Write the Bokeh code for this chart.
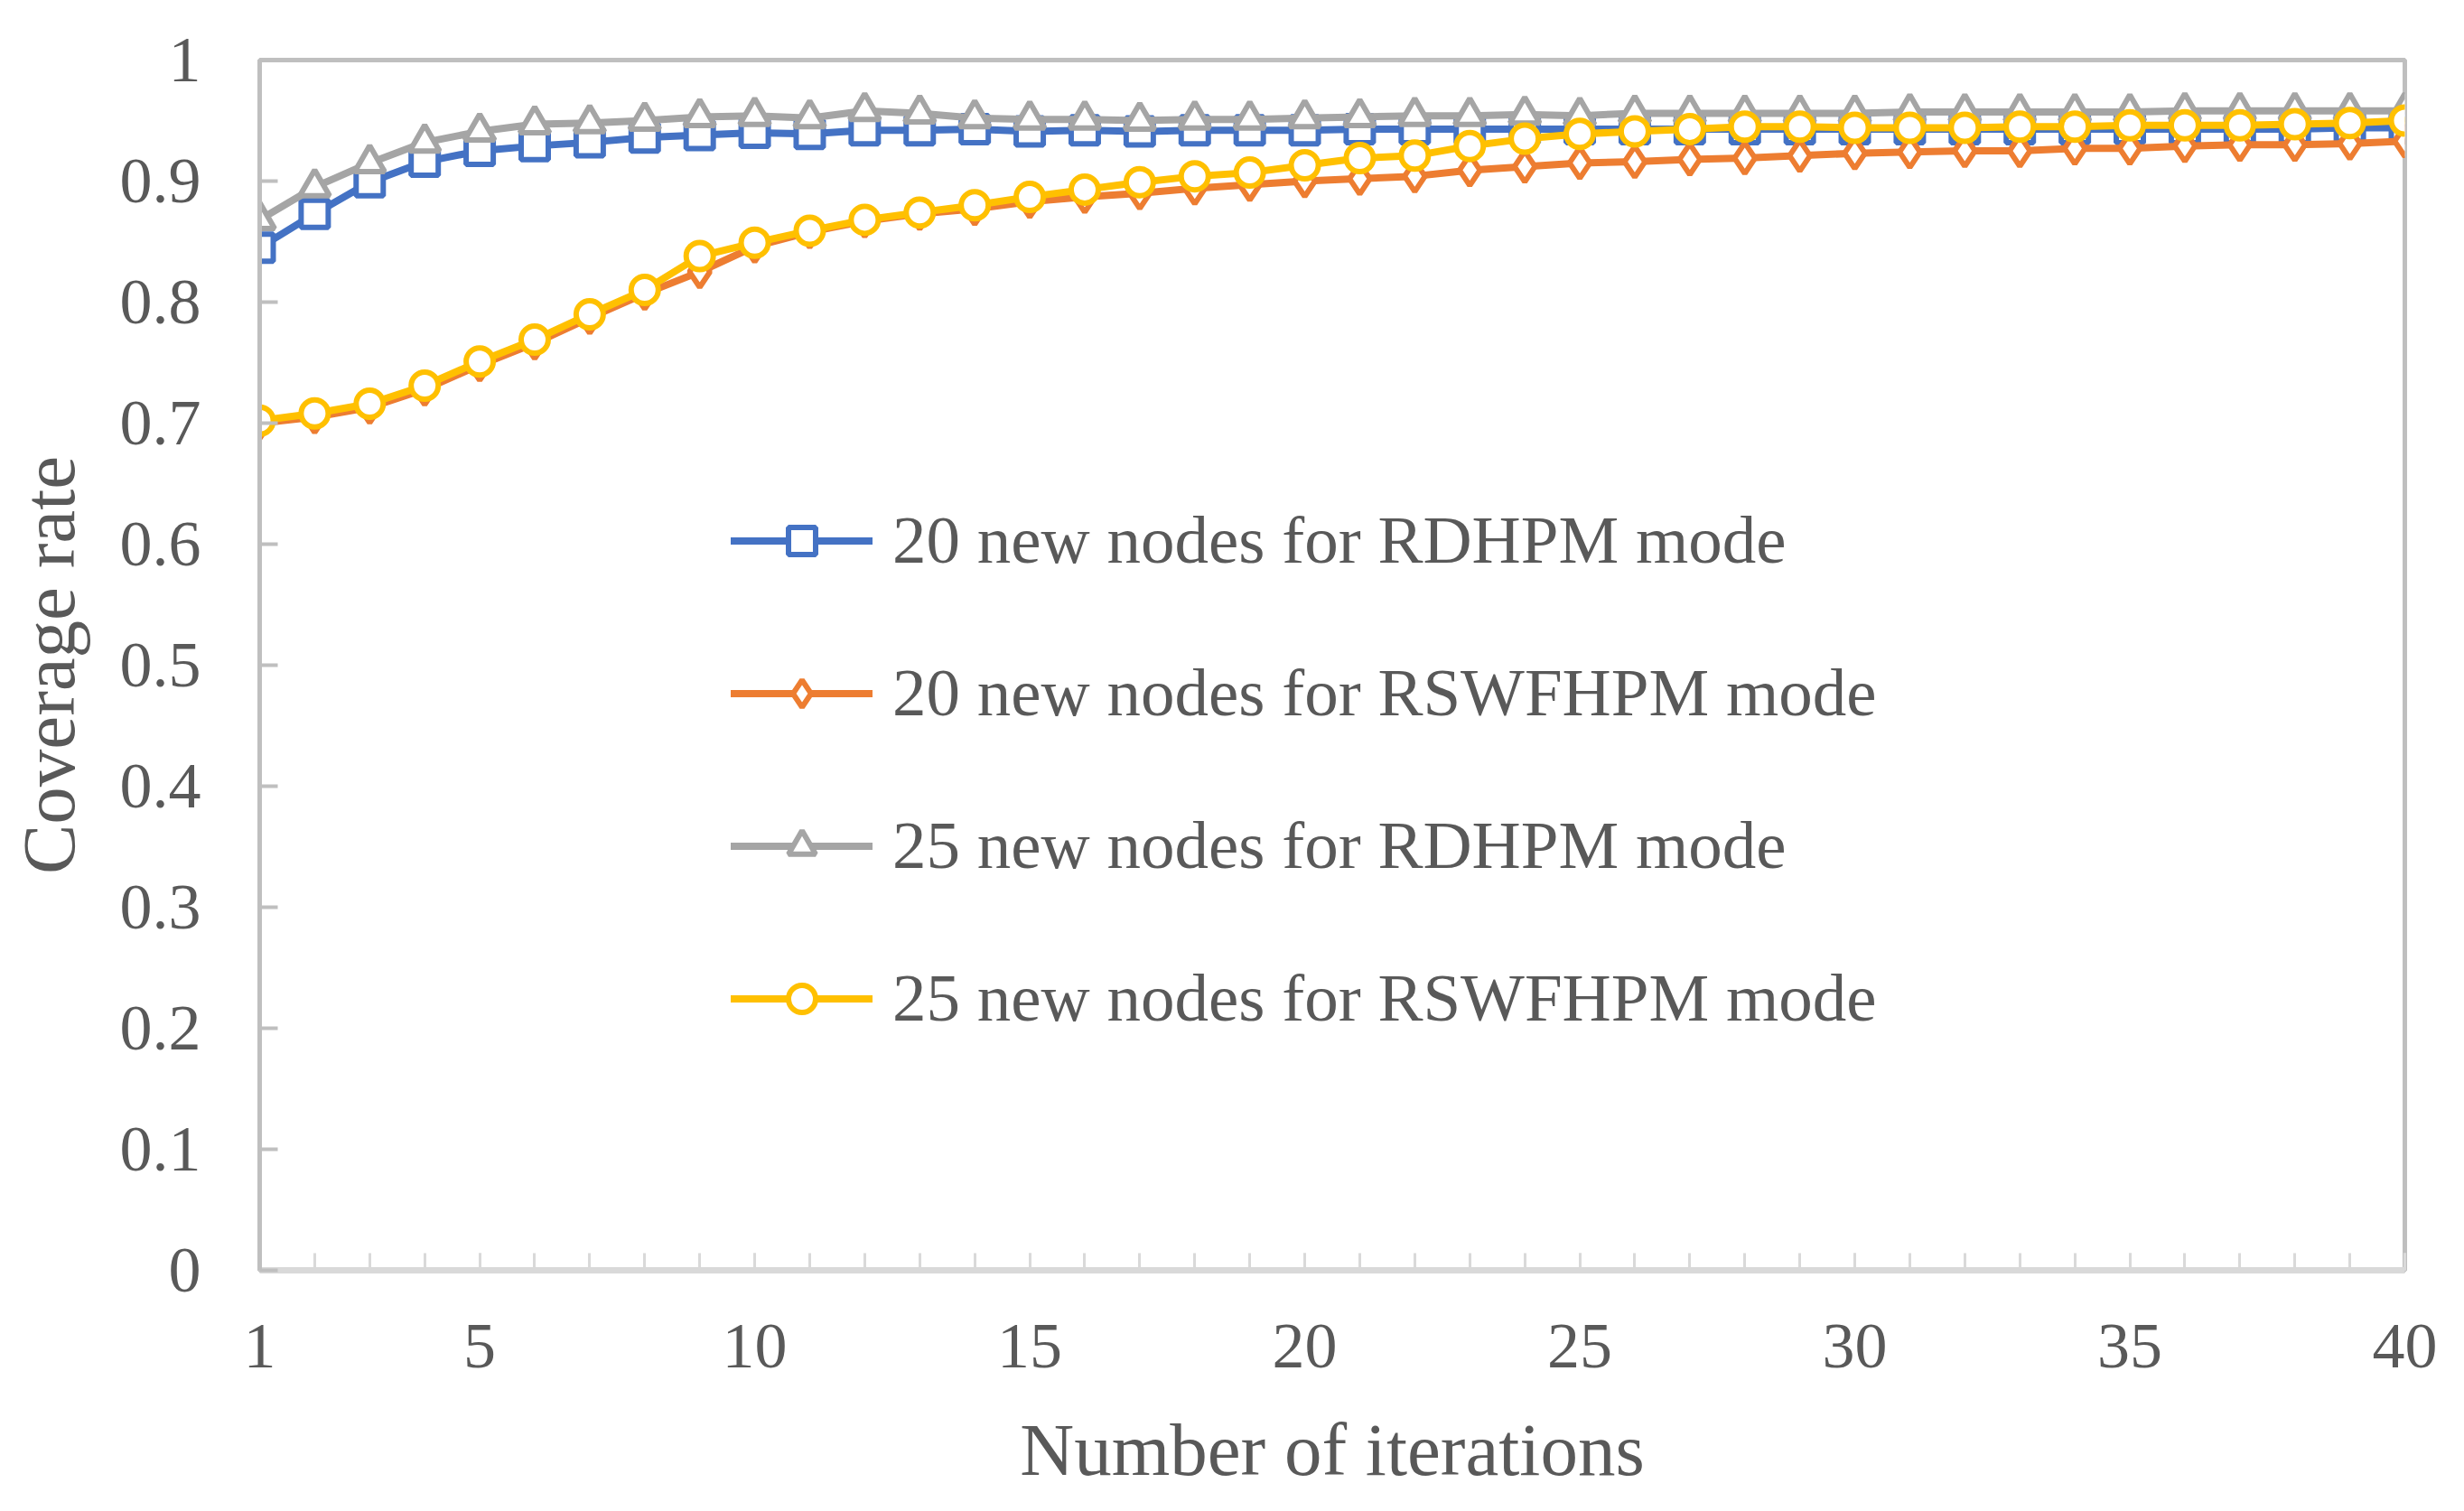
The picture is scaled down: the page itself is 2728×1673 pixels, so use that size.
from bokeh.plotting import figure
from bokeh.models import FixedTicker, CustomJSTickFormatter, Legend, LegendItem, Range1d
from bokeh.embed import file_html
from bokeh.resources import INLINE

iterations = list(range(1, 41))

rdhpm_20 = [0.845, 0.873, 0.899, 0.916, 0.925, 0.929, 0.932, 0.936, 0.938, 0.940,
            0.939, 0.942, 0.942, 0.943, 0.941, 0.942, 0.941, 0.942, 0.942, 0.942,
            0.943, 0.943, 0.943, 0.943, 0.943, 0.943, 0.943, 0.943, 0.943, 0.943,
            0.943, 0.943, 0.943, 0.943, 0.943, 0.943, 0.943, 0.943, 0.944, 0.944]

rswfhpm_20 = [0.700, 0.705, 0.713, 0.728, 0.748, 0.766, 0.787, 0.807, 0.825, 0.846,
              0.858, 0.867, 0.873, 0.877, 0.883, 0.887, 0.890, 0.894, 0.897, 0.900,
              0.902, 0.904, 0.909, 0.912, 0.915, 0.916, 0.918, 0.919, 0.921, 0.923,
              0.924, 0.925, 0.925, 0.927, 0.927, 0.929, 0.930, 0.930, 0.931, 0.933]

rdhpm_25 = [0.868, 0.895, 0.915, 0.932, 0.941, 0.947, 0.948, 0.950, 0.953, 0.954,
            0.952, 0.958, 0.956, 0.952, 0.951, 0.951, 0.950, 0.951, 0.951, 0.952,
            0.953, 0.954, 0.954, 0.955, 0.954, 0.956, 0.956, 0.956, 0.956, 0.956,
            0.957, 0.957, 0.957, 0.957, 0.957, 0.958, 0.958, 0.958, 0.958, 0.958]

rswfhpm_25 = [0.702, 0.708, 0.716, 0.731, 0.751, 0.769, 0.790, 0.810, 0.838, 0.849,
              0.859, 0.868, 0.874, 0.880, 0.887, 0.893, 0.899, 0.904, 0.907, 0.913,
              0.919, 0.921, 0.929, 0.935, 0.939, 0.941, 0.943, 0.945, 0.945, 0.944,
              0.944, 0.944, 0.945, 0.945, 0.946, 0.946, 0.946, 0.947, 0.948, 0.950]

series_labels = ["20 new nodes for RDHPM mode",
                 "20 new nodes for RSWFHPM mode",
                 "25 new nodes for RDHPM mode",
                 "25 new nodes for RSWFHPM mode"]
x_tick_values = [1, 5, 10, 15, 20, 25, 30, 35, 40]
y_tick_values = [0, 0.1, 0.2, 0.3, 0.4, 0.5, 0.6, 0.7, 0.8, 0.9, 1.0]

FONT = "Liberation Serif"
TEXT = "#595959"

p = figure(width=2720, height=1665, output_backend="svg", toolbar_location=None,
           x_range=Range1d(1, 40), y_range=Range1d(0, 1),
           min_border_left=287, min_border_right=58, min_border_top=66, min_border_bottom=259,
           background_fill_color="white", border_fill_color="white")

p.outline_line_color = "#bfbfbf"
p.outline_line_width = 5
p.xgrid.grid_line_color = None
p.ygrid.grid_line_color = None

styles = [
    (rdhpm_20, "#4472C4", "square", 30),
    (rswfhpm_20, "#ED7D31", "diamond", 34),
    (rdhpm_25, "#A5A5A5", "triangle", 33),
    (rswfhpm_25, "#FFC000", "circle", 30),
]

items = []
for (vals, color, marker, size), label in zip(styles, series_labels):
    lr = p.line(iterations, vals, line_color=color, line_width=8, line_join="round",
                line_cap="round")
    sr = p.scatter(iterations, vals, marker=marker, size=size, fill_color="white",
                   line_color=color, line_width=6)
    items.append(LegendItem(label=label, renderers=[lr, sr]))

legend = Legend(items=items, location=(522, 258), orientation="vertical",
                glyph_width=157, glyph_height=75, label_height=75, label_standoff=22,
                spacing=83, padding=0, margin=0,
                border_line_color=None, background_fill_alpha=0,
                label_text_font=FONT, label_text_font_size="75px", label_text_color=TEXT)
p.add_layout(legend, "center")

xa = p.xaxis[0]
xa.ticker = FixedTicker(ticks=x_tick_values, minor_ticks=iterations)
xa.axis_line_color = "#d9d9d9"
xa.axis_line_width = 7
xa.major_tick_in = 19
xa.major_tick_out = 0
xa.minor_tick_in = 19
xa.minor_tick_out = 0
xa.major_tick_line_color = "#d9d9d9"
xa.minor_tick_line_color = "#d9d9d9"
xa.major_tick_line_width = 3
xa.minor_tick_line_width = 3
xa.major_label_text_font = FONT
xa.major_label_text_font_size = "72px"
xa.major_label_text_color = TEXT
xa.major_label_standoff = 60
xa.axis_label = "Number of iterations"
xa.axis_label_text_font = FONT
xa.axis_label_text_font_size = "83px"
xa.axis_label_text_font_style = "normal"
xa.axis_label_text_color = TEXT
xa.axis_label_standoff = 42

ya = p.yaxis[0]
ya.ticker = FixedTicker(ticks=y_tick_values)
ya.formatter = CustomJSTickFormatter(code="return String(Number(tick.toFixed(2)));")
ya.axis_line_color = "#bfbfbf"
ya.axis_line_width = 5
ya.major_tick_in = 20
ya.major_tick_out = 0
ya.minor_tick_line_color = None
ya.major_tick_line_color = "#bfbfbf"
ya.major_tick_line_width = 4
ya.major_label_text_font = FONT
ya.major_label_text_font_size = "72px"
ya.major_label_text_color = TEXT
ya.major_label_standoff = 65
ya.axis_label = "Coverage rate"
ya.axis_label_text_font = FONT
ya.axis_label_text_font_size = "83px"
ya.axis_label_text_font_style = "normal"
ya.axis_label_text_color = TEXT
ya.axis_label_standoff = 30

open("out.html", "w").write(file_html(p, INLINE))
